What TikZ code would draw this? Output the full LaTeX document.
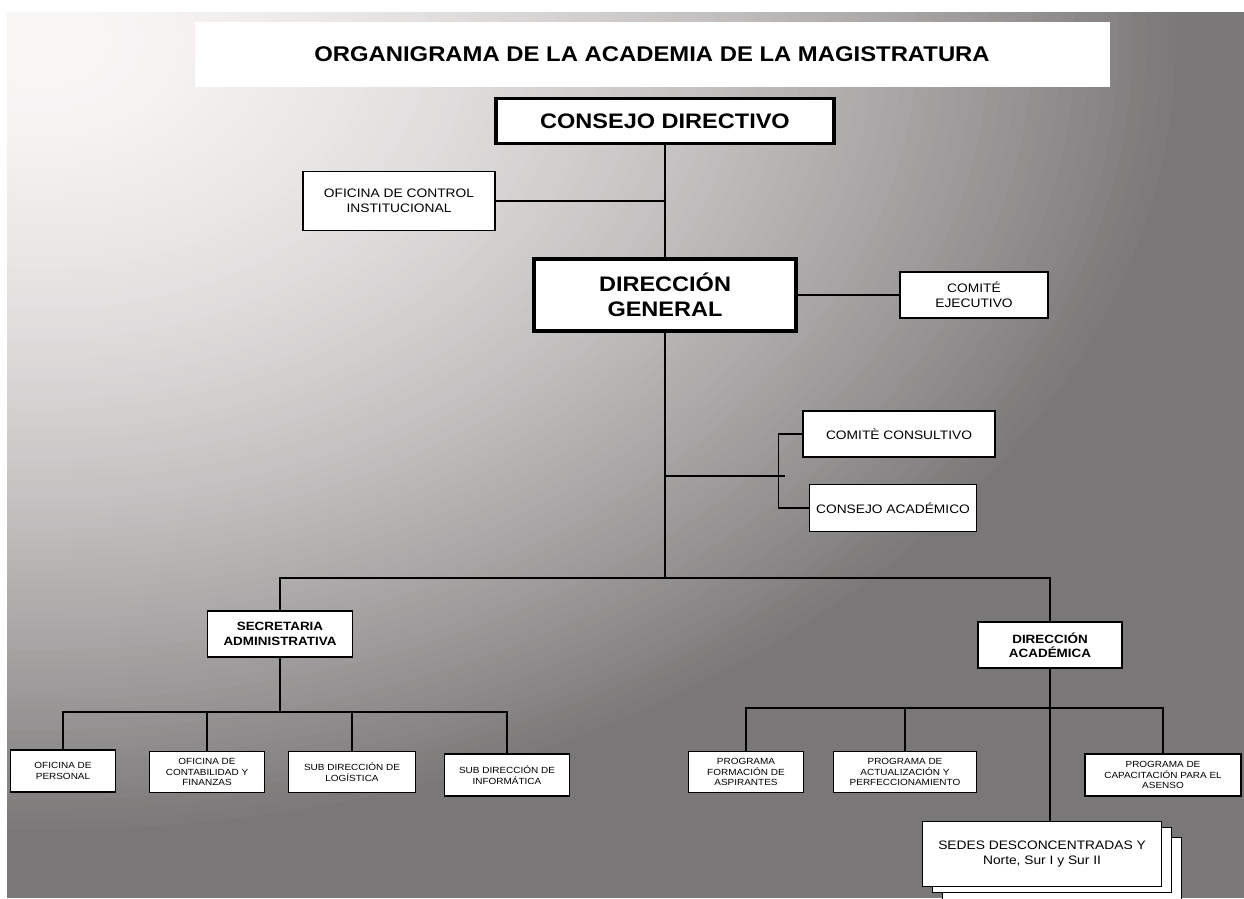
\documentclass[tikz,border=0pt]{standalone}
\usepackage{fontspec}
\setmainfont{Liberation Sans}[FakeStretch=1.12]
\usepackage{tikz}
\usetikzlibrary{positioning}

\definecolor{bgA}{RGB}{249,247,246}
\definecolor{bgE}{RGB}{121,119,119}

\begin{document}
\begin{tikzpicture}[x=1pt, y=-1pt, line width=1.1pt,
  box/.style={draw, fill=white, inner sep=0pt, align=center, line width=1.2pt},
  head/.style={box, line width=3.5pt, font=\bfseries\fontsize{21}{25}\selectfont},
  unit/.style={box, font=\fontsize{12.3}{15}\selectfont},
  dept/.style={box, font=\bfseries\fontsize{12}{14.5}\selectfont},
  office/.style={box, font=\fontsize{8.9}{10.8}\selectfont}]

\useasboundingbox (0,0) rectangle (1244,898);
\fill[bgE] (7,12) rectangle (1244,898);
\begin{scope}
\clip (7,12) rectangle (1244,898);
\foreach \i in {0,...,79}{
  \pgfmathsetmacro\t{1-\i/80}
  \pgfmathsetmacro\p{100*(1-\t^1.6)}
  \fill[bgA!\p!bgE] (40,40) ellipse [x radius=1150*\t, y radius=800*\t];
}
\end{scope}

\node[fill=white, minimum width=915, minimum height=65, font=\bfseries\fontsize{21.3}{25}\selectfont] (title) at (652,54) {ORGANIGRAMA DE LA ACADEMIA DE LA MAGISTRATURA};
\node[head, minimum width=338, minimum height=45] (consejo) at (665,121) {CONSEJO DIRECTIVO};
\node[unit, minimum width=192, minimum height=59] (control) at (399,201) {OFICINA DE CONTROL\\INSTITUCIONAL};
\node[head, minimum width=262, minimum height=72] (general) at (665,295) {DIRECCIÓN\\GENERAL};
\node[unit, minimum width=148, minimum height=46] (ejecutivo) at (974,295) {COMITÉ\\EJECUTIVO};
\node[unit, minimum width=192, minimum height=46] (consultivo) at (899,434) {COMITÈ CONSULTIVO};
\node[unit, minimum width=167, minimum height=47] (academico) at (893,508) {CONSEJO ACADÉMICO};
\node[dept, minimum width=145, minimum height=46] (secretaria) at (280,634) {SECRETARIA\\ADMINISTRATIVA};
\node[dept, minimum width=144, minimum height=46] (direccion) at (1050,645) {DIRECCIÓN\\ACADÉMICA};
\node[office, minimum width=105, minimum height=42] (personal) at (63,771) {OFICINA DE\\PERSONAL};
\node[office, minimum width=115, minimum height=41] (contabilidad) at (207,772) {OFICINA DE\\CONTABILIDAD Y\\FINANZAS};
\node[office, minimum width=127, minimum height=41] (logistica) at (352,772) {SUB DIRECCIÓN DE\\LOGÍSTICA};
\node[office, minimum width=125, minimum height=42] (informatica) at (507,775) {SUB DIRECCIÓN DE\\INFORMÁTICA};
\node[office, minimum width=115, minimum height=41] (formacion) at (746,772) {PROGRAMA\\FORMACIÓN DE\\ASPIRANTES};
\node[office, minimum width=143, minimum height=41] (actualizacion) at (905,772) {PROGRAMA DE\\ACTUALIZACIÓN Y\\PERFECCIONAMIENTO};
\node[office, minimum width=156, minimum height=42] (capacitacion) at (1163,775) {PROGRAMA DE\\CAPACITACIÓN PARA EL\\ASENSO};
\node[unit, minimum width=239, minimum height=65] (sedes3) at (1062,870) {};
\node[unit, minimum width=239, minimum height=65] (sedes2) at (1052,860) {};
\node[unit, minimum width=239, minimum height=65] (sedes) at (1042,854) {SEDES DESCONCENTRADAS Y\\Norte, Sur I y Sur II};

\coordinate (side) at (785,476);
\coordinate (bar) at (665,578);
\coordinate (sbar) at (280,712);
\coordinate (abar) at (1050,708);

\draw (consejo.south) -- (general.north);
\draw (control.east) -- (control.east -| general.north);
\draw (general.east) -- (ejecutivo.west);
\draw (side -| general.south) -- (side);
\draw (consultivo.west) -- ++(-24,0) |- (academico.west);
\draw (general.south) -- (bar);
\draw (secretaria.north) |- (bar) -| (direccion.north);
\draw (secretaria.south) -- (sbar);
\draw (personal.north) |- (sbar) -| (informatica.north);
\foreach \n in {contabilidad, logistica}
  \draw (\n.north) -- (\n.north |- sbar);
\draw (direccion.south) -- (direccion.south |- sedes.north);
\draw (formacion.north) |- (abar) -| (capacitacion.north);
\draw (actualizacion.north) -- (actualizacion.north |- abar);
\end{tikzpicture}
\end{document}
